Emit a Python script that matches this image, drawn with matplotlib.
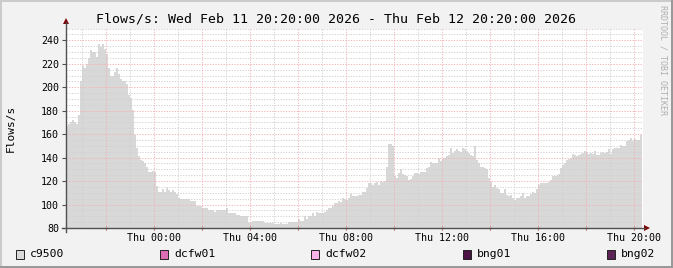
import numpy as np
import matplotlib
matplotlib.use("Agg")
import matplotlib.pyplot as plt
from matplotlib.patches import Rectangle, Polygon
from matplotlib.lines import Line2D

plt.rcParams['font.family'] = ['DejaVu Sans Mono']

# Flows/s, 5-minute steps from Wed 20:20 (one row per hour)
flows = [
    167, 169, 170, 172, 170, 169, 176, 205, 218, 216, 220, 225,
    232, 230, 230, 226, 237, 234, 237, 233, 228, 216, 210, 210,
    213, 216, 211, 207, 205, 205, 203, 193, 191, 181, 159, 148,
    141, 138, 137, 135, 132, 128, 128, 129, 128, 116, 111, 111,
    113, 111, 114, 112, 111, 112, 111, 109, 106, 105, 105, 105,
    105, 105, 103, 103, 103, 99, 99, 99, 97, 97, 97, 95,
    95, 95, 94, 95, 95, 95, 95, 95, 97, 93, 93, 93,
    93, 91, 91, 90, 90, 90, 90, 84, 84, 86, 86, 86,
    86, 86, 86, 84, 84, 84, 84, 84, 83, 83, 83, 84,
    83, 83, 83, 85, 85, 85, 85, 85, 88, 86, 86, 90,
    88, 90, 90, 93, 90, 94, 93, 93, 93, 94, 95, 97,
    97, 99, 101, 101, 103, 102, 106, 105, 104, 106, 109, 107,
    107, 107, 108, 108, 111, 111, 114, 118, 118, 117, 118, 119,
    117, 120, 119, 120, 132, 152, 152, 150, 124, 123, 127, 130,
    126, 125, 124, 121, 122, 124, 127, 127, 126, 128, 128, 128,
    131, 132, 136, 135, 135, 135, 140, 137, 139, 140, 141, 142,
    148, 144, 146, 147, 146, 145, 148, 147, 146, 144, 142, 141,
    150, 138, 135, 132, 132, 131, 130, 123, 119, 115, 117, 114,
    113, 110, 110, 113, 108, 107, 108, 106, 104, 106, 106, 107,
    110, 106, 107, 107, 109, 111, 110, 113, 117, 118, 118, 118,
    118, 119, 121, 124, 124, 124, 126, 131, 134, 135, 138, 139,
    140, 143, 142, 141, 142, 143, 144, 146, 145, 143, 144, 143,
    146, 142, 142, 144, 145, 144, 145, 147, 143, 147, 148, 148,
    148, 151, 150, 150, 154, 155, 157, 154, 156, 155, 155, 159,
]
step_min = 5
tick_labels = ['Thu 00:00', 'Thu 04:00', 'Thu 08:00', 'Thu 12:00', 'Thu 16:00', 'Thu 20:00']
legend_names = ['c9500', 'dcfw01', 'dcfw02', 'bng01', 'bng02']
legend_colors = ['#d8d8d8', '#dc6cb4', '#f8b4e8', '#4c1444', '#5c2454']
title = 'Flows/s: Wed Feb 11 20:20:00 2026 - Thu Feb 12 20:20:00 2026'

W, H = 673, 268


def fx(x):
    return x / W


def fy(y):
    return 1 - y / H


fig = plt.figure(figsize=(W / 100, H / 100), dpi=100, facecolor='#f2f2f2')

# frame shading
fig.patches.append(Rectangle((0, fy(2)), 1, 2 / H, transform=fig.transFigure, color='#cbcbcb', lw=0))
fig.patches.append(Rectangle((0, 0), 2 / W, 1, transform=fig.transFigure, color='#cbcbcb', lw=0))
fig.patches.append(Rectangle((fx(W - 2), 0), 2 / W, 1, transform=fig.transFigure, color='#999999', lw=0))
fig.patches.append(Rectangle((0, 0), 1, 2 / H, transform=fig.transFigure, color='#999999', lw=0))

left, right, top, bottom = 66, 643, 28.6, 228
ax = fig.add_axes([fx(left), fy(bottom), (right - left) / W, (bottom - top) / H])
ax.set_facecolor('white')

edges = np.arange(len(flows) + 1) * step_min
ax.stairs(flows, edges, fill=True, color='#d8d8d8', lw=0, baseline=0, zorder=1)

ax.set_xlim(0, (right - left) / 2 * step_min)
ax.set_ylim(80, 250)

# grid on top of the area
dots = (0, (1.4, 1.6))
red, grey = '#f4b0b0', '#d0d0d0'
for v in range(85, 251, 5):
    if v % 20 == 0:
        ax.axhline(v, color=red, lw=0.65, ls=dots, zorder=3)
    else:
        ax.axhline(v, color=grey, lw=0.65, ls=dots, zorder=2)
for i in range(24):
    t = 40 + 60 * i
    hour = (21 + i) % 24
    if hour % 2 == 0:
        ax.axvline(t, color=red, lw=0.65, ls=dots, zorder=3)
    else:
        ax.axvline(t, color=grey, lw=0.65, ls=dots, zorder=2)

for s in ax.spines.values():
    s.set_visible(False)

major_t = [100 + 120 * i for i in range(12)]
ax.set_xticks(major_t)
ax.set_xticklabels([tick_labels[(t - 220) // 240] if (t - 220) % 240 == 0 else '' for t in major_t])
ax.tick_params(axis='x', direction='inout', length=3, width=0.8, color='#d06060', labelsize=7.2, pad=2)
ax.set_yticks(range(80, 241, 20))
ax.tick_params(axis='y', direction='out', length=3, width=0.8, color='#505050', labelsize=7.2, pad=2)

# axes with arrows
fig.lines.append(Line2D([fx(66), fx(66)], [fy(232), fy(22)], transform=fig.transFigure, color='#505050', lw=1))
fig.lines.append(Line2D([fx(62), fx(645)], [fy(228), fy(228)], transform=fig.transFigure, color='#505050', lw=1))
fig.patches.append(Polygon([(fx(63), fy(24)), (fx(69), fy(24)), (fx(66), fy(18))],
                           transform=fig.transFigure, color='#7f0000', lw=0))
fig.patches.append(Polygon([(fx(644), fy(225)), (fx(644), fy(231)), (fx(650), fy(228))],
                           transform=fig.transFigure, color='#7f0000', lw=0))

fig.text(fx(336), fy(19), title, ha='center', va='center', fontsize=9.5)
fig.text(fx(11), fy(128), 'Flows/s', rotation=90, ha='center', va='center', fontsize=8)
fig.text(fx(663), fy(60), 'RRDTOOL / TOBI OETIKER', rotation=270, ha='center', va='center',
         fontsize=6, color='#b0b0b0')

# legend
box_x = [16, 160, 311, 463, 607]
for bx, name, col in zip(box_x, legend_names, legend_colors):
    fig.patches.append(Rectangle((fx(bx), fy(259)), 8 / W, 9 / H, transform=fig.transFigure,
                                 facecolor=col, edgecolor='#222222', lw=0.7))
    fig.text(fx(bx + 14), fy(254), name, ha='left', va='center', fontsize=8.2)

fig.savefig('out.png', dpi=100, facecolor=fig.get_facecolor())
